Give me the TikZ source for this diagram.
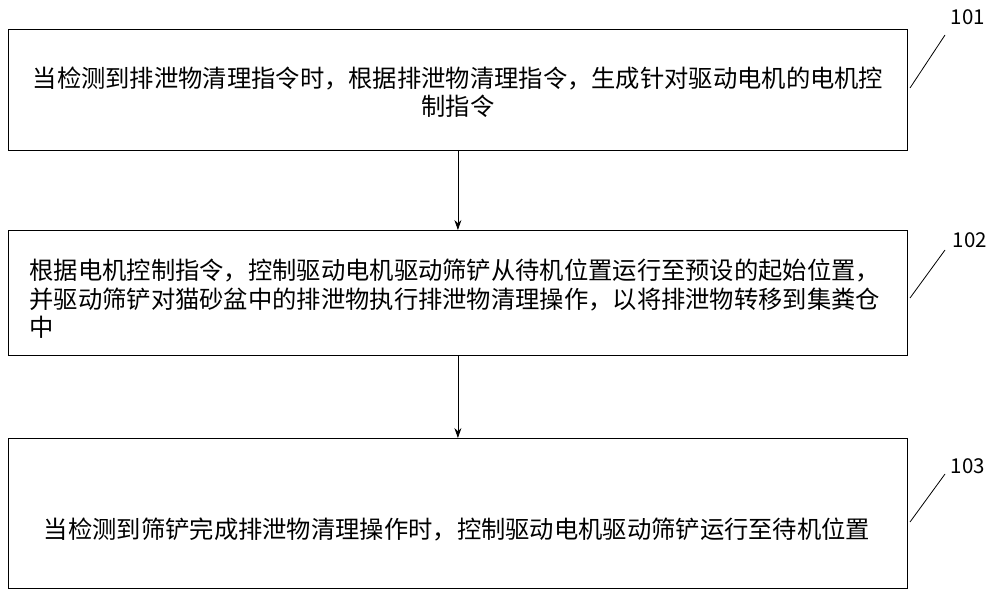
\documentclass[tikz,border=0pt]{standalone}
\usepackage{fontspec}
\setmainfont{Noto Sans CJK SC}
\usetikzlibrary{positioning,arrows.meta}
\tikzset{
  stepbox/.style={draw, thick, minimum width=899pt, anchor=north west, inner sep=0pt},
  boxtext/.style={font=\fontsize{24.3}{28.5}\selectfont},
  tagtext/.style={font=\fontsize{20.5}{24}\selectfont},
  tagline/.style={thick},
  flow/.style={thick, -{Stealth[length=10pt,width=7pt]}}
}
\begin{document}
\begin{tikzpicture}[x=1pt,y=-1pt]
    \useasboundingbox (0,0) rectangle (1000,602);

    %Boxes
    \node[stepbox, minimum height=121pt] (s1) at (8,29) {};
    \node[stepbox, minimum height=125pt] (s2) at (8,230) {};
    \node[stepbox, minimum height=150pt] (s3) at (8,438) {};

    %Texts
    \node[boxtext, align=center] (t1) at (458,92) {当检测到排泄物清理指令时，根据排泄物清理指令，生成针对驱动电机的电机控\\制指令};
    \node[boxtext, align=left, anchor=west] (t2) at (26,299) {根据电机控制指令，控制驱动电机驱动筛铲从待机位置运行至预设的起始位置，\\并驱动筛铲对猫砂盆中的排泄物执行排泄物清理操作，以将排泄物转移到集粪仓\\中};
    \node[boxtext] (t3) at (457,529) {当检测到筛铲完成排泄物清理操作时，控制驱动电机驱动筛铲运行至待机位置};

    %Arrows
    \draw[flow] (s1.south) -- (s2.north);
    \draw[flow] (s2.south) -- (s3.north);

    %Tags
    \node[tagtext] (n1) at (968,17) {101};
    \node[tagtext] (n2) at (970,240) {102};
    \node[tagtext] (n3) at (968,466) {103};
    \coordinate (c1) at (910,88);
    \coordinate (c2) at (910,298);
    \coordinate (c3) at (910,522);
    \draw[tagline] (c1) -- (945,35);
    \draw[tagline] (c2) -- (945,250);
    \draw[tagline] (c3) -- (945,474);
\end{tikzpicture}
\end{document}
